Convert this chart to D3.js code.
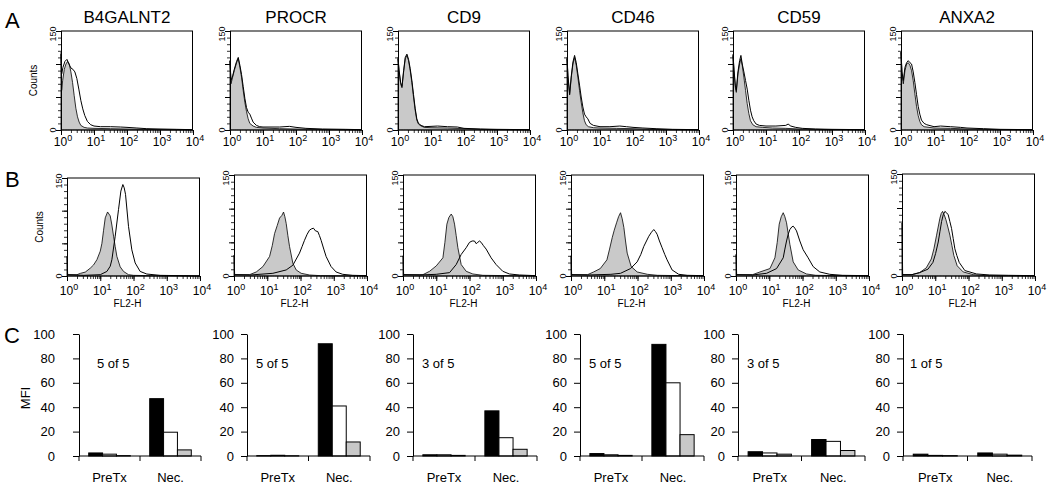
<!DOCTYPE html>
<html><head><meta charset="utf-8">
<script src="https://cdn.jsdelivr.net/npm/d3@7"></script>
<style>body{margin:0;background:#fff} svg{display:block} text{font-family:"Liberation Sans",Arial,sans-serif;fill:#000}</style>
</head><body><svg id="c" width="1050" height="490"></svg>
<script>
// ---------------- DATA ----------------
const markers = ["B4GALNT2","PROCR","CD9","CD46","CD59","ANXA2"];
const decadeTicks = [0,1,2,3,4];
const countTicks = [0,150];
const mfiTicks = [0,20,40,60,80,100];
const groups = ["PreTx","Nec."];
const seriesNames = ["black","white","gray"];
const positiveLabels = ["5 of 5","5 of 5","3 of 5","5 of 5","3 of 5","1 of 5"];

// histograms: [log10 decade, counts]
const rowAControl = [
 [[0,115],[0.02,60],[0.05,75],[0.1,92],[0.15,100],[0.2,104],[0.25,100],[0.3,88],[0.35,72],[0.4,52],[0.45,33],[0.5,20],[0.55,12],[0.6,7],[0.7,4],[0.8,3],[1.0,2.5],[1.5,2],[2,1.5],[2.5,1],[3,0.5],[4,0]],
 [[0,105],[0.03,70],[0.08,80],[0.13,90],[0.2,102],[0.25,108],[0.3,95],[0.35,80],[0.4,60],[0.45,42],[0.5,28],[0.55,17],[0.6,10],[0.7,6],[0.8,4],[1.0,3],[1.5,2],[2,1.5],[3,0.5],[4,0]],
 [[0,108],[0.03,90],[0.08,70],[0.12,64],[0.17,88],[0.22,108],[0.27,113],[0.32,105],[0.37,90],[0.42,72],[0.47,50],[0.52,30],[0.57,15],[0.62,9],[0.7,6],[0.8,4],[1.0,3.5],[1.5,3],[2,2],[2.5,1],[3,0.5],[4,0]],
 [[0,108],[0.03,80],[0.08,53],[0.13,80],[0.18,100],[0.23,110],[0.28,98],[0.33,80],[0.38,60],[0.43,42],[0.48,26],[0.53,14],[0.58,8],[0.65,5],[0.8,3.5],[1.0,3],[1.5,2.5],[2,2],[2.5,1],[3,0.5],[4,0]],
 [[0,113],[0.03,90],[0.07,65],[0.1,57],[0.15,85],[0.2,100],[0.24,108],[0.28,98],[0.33,80],[0.38,60],[0.43,40],[0.48,25],[0.53,14],[0.6,8],[0.7,5],[0.9,4],[1.2,3],[1.6,2.5],[2,1.5],[2.5,1],[3,0.5],[4,0]],
 [[0,118],[0.03,85],[0.07,70],[0.12,90],[0.17,100],[0.22,102],[0.27,98],[0.32,90],[0.37,75],[0.42,55],[0.47,36],[0.52,22],[0.57,13],[0.62,8],[0.7,5],[1.0,3],[1.5,2.5],[2,1.5],[2.5,1],[3,0.5],[4,0]]
];
const rowAStained = [
 [[0,118],[0.02,85],[0.06,95],[0.12,104],[0.18,107],[0.24,100],[0.3,94],[0.36,92],[0.42,88],[0.48,78],[0.54,62],[0.6,45],[0.66,32],[0.72,22],[0.8,13],[0.9,8],[1.0,6],[1.2,5],[1.5,5],[1.8,4.5],[2.0,4],[2.3,3],[2.6,2],[3.0,1.5],[3.5,1],[4,0.5]],
 [[0,105],[0.03,75],[0.08,82],[0.13,92],[0.2,104],[0.25,110],[0.3,98],[0.35,84],[0.4,66],[0.45,48],[0.5,34],[0.55,27],[0.6,24],[0.65,18],[0.7,12],[0.8,7],[0.9,5],[1.0,4.5],[1.5,4.5],[1.8,5.5],[2.0,4],[2.3,2.5],[2.8,1.5],[3.5,1],[4,0.5]],
 [[0,110],[0.03,92],[0.08,72],[0.12,66],[0.17,90],[0.22,110],[0.27,115],[0.32,107],[0.37,93],[0.42,75],[0.47,54],[0.52,33],[0.57,17],[0.62,10],[0.7,7],[0.8,5],[1.0,5.5],[1.2,6],[1.5,5],[1.8,4.5],[2.0,2.5],[2.5,1.5],[3,1],[4,0.5]],
 [[0,110],[0.03,82],[0.08,55],[0.13,82],[0.18,103],[0.23,113],[0.28,102],[0.33,85],[0.38,68],[0.43,50],[0.48,35],[0.53,24],[0.58,20],[0.63,17],[0.7,10],[0.8,7],[1.0,5],[1.3,5],[1.6,6],[1.8,5],[2.0,4],[2.3,3],[2.7,2],[3.2,1],[4,0.5]],
 [[0,115],[0.03,92],[0.07,68],[0.1,60],[0.15,88],[0.2,105],[0.24,113],[0.28,100],[0.33,88],[0.38,75],[0.43,62],[0.48,45],[0.53,30],[0.58,20],[0.63,14],[0.7,9],[0.8,7],[1.0,6],[1.3,6],[1.6,7],[1.67,9],[1.75,6],[1.9,4],[2.1,2.5],[2.5,1.5],[3,1],[4,0.5]],
 [[0,118],[0.03,88],[0.07,75],[0.12,95],[0.17,102],[0.22,105],[0.27,102],[0.32,100],[0.37,88],[0.42,72],[0.47,54],[0.52,36],[0.57,24],[0.62,15],[0.7,10],[0.78,8],[1.0,5],[1.2,6],[1.5,5],[1.8,4],[2.0,3],[2.5,2],[3,1],[4,0.5]]
];
const rowBControl = [
 [[0,30],[0.02,2],[0.3,2],[0.4,4],[0.55,6],[0.7,12],[0.8,17],[0.9,25],[1.0,38],[1.05,50],[1.1,70],[1.15,89],[1.22,98],[1.3,92],[1.35,78],[1.4,61],[1.45,45],[1.5,30],[1.6,14],[1.7,7],[1.85,2],[2.0,1],[2.5,0.5],[4,0]],
 [[0,31],[0.02,2],[0.47,2],[0.67,6],[0.87,14],[1.07,29],[1.15,45],[1.22,63],[1.3,75],[1.37,86],[1.44,90],[1.49,95],[1.53,88],[1.57,78],[1.62,60],[1.67,44],[1.77,19],[1.87,9],[2.02,4],[2.27,1.5],[2.6,0.5],[4,0]],
 [[0,30],[0.02,2],[0.6,2],[0.8,7],[1.0,15],[1.2,27],[1.26,50],[1.32,77],[1.38,87],[1.45,92],[1.5,88],[1.55,77],[1.6,60],[1.65,42],[1.75,17],[1.9,7],[2.1,3],[2.4,1],[4,0]],
 [[0,30],[0.02,2],[0.5,2],[0.68,6],[0.88,11],[1.08,24],[1.16,40],[1.24,57],[1.3,68],[1.37,79],[1.43,88],[1.49,94],[1.54,85],[1.59,72],[1.64,52],[1.69,34],[1.81,14],[1.99,6],[2.3,2.5],[2.6,1],[4,0]],
 [[0,32],[0.02,2],[0.5,2],[0.72,6],[1.02,11],[1.17,27],[1.24,50],[1.3,77],[1.36,88],[1.42,94],[1.47,88],[1.52,79],[1.57,63],[1.62,47],[1.72,21],[1.87,9],[2.12,3],[2.4,1],[4,0]],
 [[0,78],[0.01,40],[0.02,2],[0.3,2],[0.53,5],[0.73,12],[0.88,25],[0.96,40],[1.04,60],[1.1,75],[1.14,85],[1.18,92],[1.22,95],[1.27,90],[1.32,83],[1.38,72],[1.44,60],[1.5,45],[1.56,30],[1.66,15],[1.84,6],[2.14,2],[2.5,0.5],[4,0]]
];
const rowBStained = [
 [[0,2],[0.5,1],[1.0,2],[1.2,7],[1.3,15],[1.35,25],[1.45,61],[1.55,102],[1.62,130],[1.68,140],[1.72,135],[1.76,125],[1.85,76],[1.95,40],[2.05,20],[2.2,7],[2.4,3],[2.8,1],[3.5,0.5],[4,0]],
 [[0,2],[0.5,1.5],[1.17,4],[1.57,9],[1.77,16],[1.97,34],[2.05,44],[2.12,53],[2.2,62],[2.27,68],[2.33,70],[2.39,71],[2.45,67],[2.52,66],[2.57,60],[2.62,53],[2.7,40],[2.77,29],[2.92,14],[3.07,6],[3.27,2.5],[3.57,1],[4,0.5]],
 [[0,2],[0.5,1.5],[1.0,2.5],[1.4,5],[1.6,17],[1.75,32],[1.9,42],[2.0,50],[2.08,52],[2.15,52],[2.2,48],[2.25,50],[2.3,52],[2.35,50],[2.42,45],[2.5,40],[2.65,27],[2.8,17],[3.0,7],[3.2,3],[3.5,1.5],[4,0.5]],
 [[0,2],[0.5,1.5],[1.2,2.5],[1.49,4],[1.79,11],[1.99,21],[2.1,32],[2.19,44],[2.27,52],[2.34,59],[2.42,65],[2.49,69],[2.54,66],[2.59,62],[2.66,52],[2.74,42],[2.82,32],[2.89,24],[3.04,9],[3.24,2.5],[3.5,1],[4,0.5]],
 [[0,2],[0.5,1.5],[0.92,4],[1.22,11],[1.42,27],[1.47,40],[1.52,52],[1.57,62],[1.62,69],[1.68,73],[1.72,74],[1.77,71],[1.82,67],[1.92,52],[2.02,39],[2.17,27],[2.32,14],[2.52,6],[2.82,2.5],[3.2,1],[4,0.5]],
 [[0,2],[0.3,2],[0.53,5],[0.78,10],[0.93,20],[1.01,33],[1.09,50],[1.14,65],[1.19,80],[1.24,90],[1.29,95],[1.34,93],[1.39,90],[1.44,80],[1.49,70],[1.54,55],[1.59,40],[1.65,30],[1.72,20],[1.89,8],[2.24,3],[2.64,1.5],[3.2,1],[4,0.5]]
];

// MFI bars: [black, white, gray] per group
const mfiPreTx = [[2.5,1.5,0.3],[0.3,0.6,0.2],[1,1,0.5],[2,1,0.5],[3.5,2.5,1.5],[1.5,0.5,0.3]];
const mfiNec   = [[47,19.5,5],[92,41,11.5],[37,15,5.5],[91.5,60,17.5],[13.5,12,4.5],[2.5,1.5,0.7]];

// ---------------- LAYOUT ----------------
const svg = d3.select("#c");
const rowA = {lefts:[61,230,398,567,733,901], w:132, tops:[31,31,31,31,31,31], bottom:130, tickLab:145};
const rowB = {lefts:[67,234,403,571,736,902], w:133, tops:[178,175,175,175,175,174], bottom:276, tickLab:293};
const rowC = {axes:[79,247,413,580,738,903], widths:[122,123,124,124,127,129], y0:456, y1:334,
              labGap:[24,13,13,13,13,13], noteOff:[18,9,9,9,9,7]};
const barFill = {black:"#000", white:"#fff", gray:"#c8c8c8"};

function histogram(i, row, ctrl, stain, isB) {
  const left = row.lefts[i], top = row.tops[i], w = row.w, bottom = row.bottom;
  const g = svg.append("g");
  const x = d3.scaleLog().domain([1,1e4]).range([left,left+w]);
  const y = d3.scaleLinear().domain([0,150]).range([bottom,top]);
  const area = d3.area().x(d=>x(Math.pow(10,d[0]))).y0(y(0)).y1(d=>y(d[1]));
  const line = d3.line().x(d=>x(Math.pow(10,d[0]))).y(d=>y(d[1]));
  g.append("path").attr("d",area(ctrl)).attr("fill","#c9c9c9").attr("stroke","#000").attr("stroke-width",0.8);
  g.append("path").attr("d",line(stain)).attr("fill","none").attr("stroke","#000").attr("stroke-width",1);
  g.append("rect").attr("x",left+0.5).attr("y",top).attr("width",w-1).attr("height",bottom-top)
    .attr("fill","none").attr("stroke","#000").attr("stroke-width",1);
  const ya = d3.axisLeft(y).tickValues(d3.range(0,151,10)).tickSize(3).tickFormat("");
  g.append("g").attr("transform",`translate(${left},0)`).call(ya).call(s=>s.select(".domain").remove())
    .selectAll("line").attr("stroke-width",0.8);
  g.append("g").attr("transform",`translate(${left},0)`)
    .call(d3.axisLeft(y).tickValues([0,50,100,150]).tickSize(5).tickFormat(""))
    .call(s=>s.select(".domain").remove());
  g.append("g").attr("transform",`translate(0,${bottom})`)
    .call(d3.axisBottom(x).tickValues(x.ticks()).tickSize(3).tickFormat(""))
    .call(s=>s.select(".domain").remove()).selectAll("line").attr("stroke-width",0.8);
  g.append("g").attr("transform",`translate(0,${bottom})`)
    .call(d3.axisBottom(x).tickValues(decadeTicks.map(d=>Math.pow(10,d))).tickSize(5).tickFormat(""))
    .call(s=>s.select(".domain").remove());
  decadeTicks.forEach(d=>{
    const t = g.append("text").attr("x",x(Math.pow(10,d))+2).attr("y",row.tickLab+ (isB?2:1))
      .attr("text-anchor","middle").attr("font-size",12).text("10");
    t.append("tspan").attr("dy",-5).attr("font-size",9).text(String(d));
  });
  countTicks.forEach(c=>{
    g.append("text").attr("transform",`translate(${left-5},${y(c)+(c===150?3:0)}) rotate(-90)`)
      .attr("text-anchor","middle").attr("font-size",9).text(String(c));
  });
  if (i===0) {
    g.append("text").attr("transform",`translate(${left-24},${(top+bottom)/2}) rotate(-90)`)
      .attr("text-anchor","middle").attr("font-size",10).text("Counts");
  }
  if (isB) {
    g.append("text").attr("x",left+w/2-6).attr("y",307).attr("text-anchor","middle")
      .attr("font-size",10).text("FL2-H");
  } else {
    g.append("text").attr("x",left+w/2).attr("y",23).attr("text-anchor","middle")
      .attr("font-size",17).text(markers[i]);
  }
}

for (let i=0;i<6;i++) {
  histogram(i,rowA,rowAControl[i],rowAStained[i],false);
  histogram(i,rowB,rowBControl[i],rowBStained[i],true);
}

function barPanel(i) {
  const ax = rowC.axes[i], W = rowC.widths[i];
  const g = svg.append("g");
  const y = d3.scaleLinear().domain([0,100]).range([rowC.y0,rowC.y1]);
  const x0 = d3.scaleBand().domain(groups).range([ax,ax+W]).padding(0);
  const x1 = d3.scaleBand().domain(seriesNames).range([0,x0.bandwidth()]).paddingInner(0).paddingOuter(0.7);
  const data = [mfiPreTx[i], mfiNec[i]];
  groups.forEach((gr,gi)=>{
    seriesNames.forEach((s,si)=>{
      const v = data[gi][si];
      g.append("rect").attr("x",x0(gr)+x1(s)).attr("y",y(v)).attr("width",x1.bandwidth())
        .attr("height",y(0)-y(v)).attr("fill",barFill[s]).attr("stroke","#000").attr("stroke-width",1);
    });
  });
  const yAxis = d3.axisLeft(y).tickValues(mfiTicks).tickSize(6).tickPadding(rowC.labGap[i]-6).tickSizeOuter(0);
  g.append("g").attr("transform",`translate(${ax},0)`).call(yAxis)
    .call(s=>s.selectAll("text").attr("font-size",13).attr("font-family","'Liberation Sans',Arial,sans-serif"));
  g.append("line").attr("x1",ax).attr("x2",ax+W).attr("y1",y(0)).attr("y2",y(0)).attr("stroke","#000");
  [ax, ax+x0.bandwidth(), ax+W].forEach(t=>{
    g.append("line").attr("x1",t).attr("x2",t).attr("y1",y(0)).attr("y2",y(0)+5).attr("stroke","#000");
  });
  groups.forEach(gr=>{
    g.append("text").attr("x",x0(gr)+x0.bandwidth()/2).attr("y",482).attr("text-anchor","middle")
      .attr("font-size",13).text(gr);
  });
  g.append("text").attr("x",ax+rowC.noteOff[i]).attr("y",368).attr("font-size",13).text(positiveLabels[i]);
  if (i===0) {
    g.append("text").attr("transform",`translate(30,398) rotate(-90)`).attr("text-anchor","middle")
      .attr("font-size",13).text("MFI");
  }
}
for (let i=0;i<6;i++) barPanel(i);

[["A",5,28],["B",5,187],["C",4,343]].forEach(([t,x,y])=>{
  svg.append("text").attr("x",x).attr("y",y).attr("font-size",22).text(t);
});
</script></body></html>
